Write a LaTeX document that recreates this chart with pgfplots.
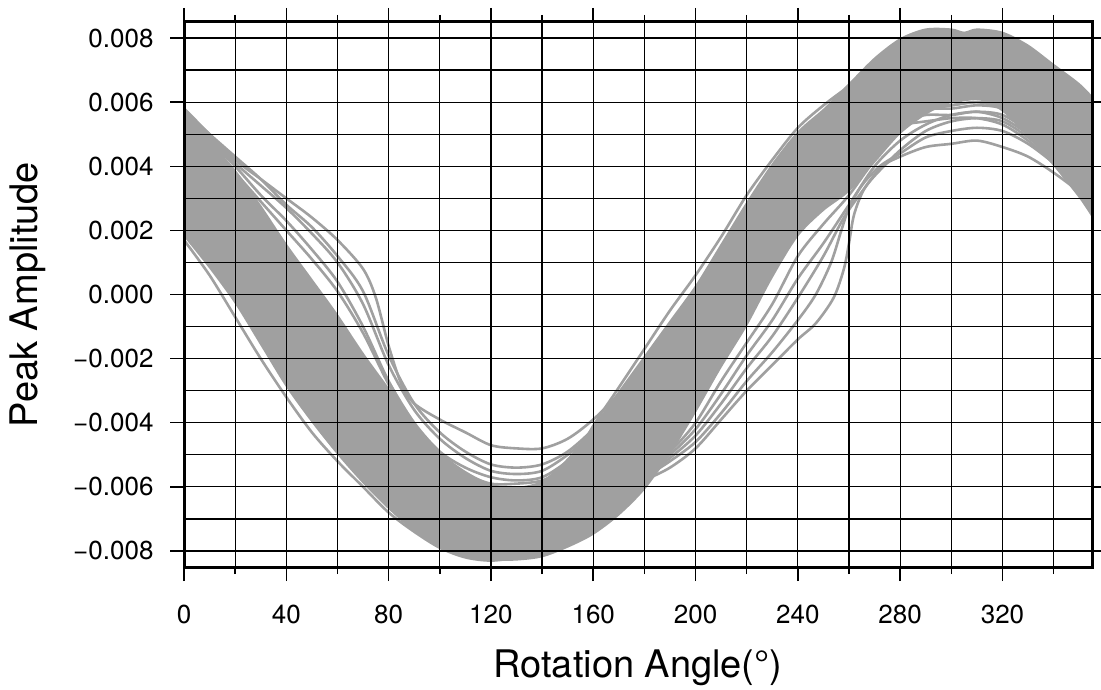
\documentclass[border=0pt]{standalone}
\usepackage{pgfplots}
\pgfplotsset{compat=1.18}
\usepgfplotslibrary{fillbetween}
\usepackage{fontspec}
\setmainfont{TeX Gyre Heros}
\definecolor{trace}{RGB}{160,160,160}
\pgfplotsset{tr/.style={color=trace, solid, no markers, line width=2.6pt, smooth}}

% upper and lower edge of the dense bundle of traces
\pgfplotstableread{
x y
0 0.0056
10 0.0048
20 0.0039
30 0.0028
40 0.0016
50 0.0005
60 -0.0006
70 -0.0018
80 -0.0029
90 -0.0040
100 -0.0049
110 -0.0055
120 -0.0059
130 -0.0060
140 -0.0058
150 -0.0051
160 -0.0041
170 -0.0030
180 -0.0019
190 -0.0008
200 0.0003
210 0.0016
220 0.0029
230 0.0041
240 0.0051
250 0.0058
260 0.0066
270 0.0074
280 0.0080
290 0.0083
300 0.0083
305 0.0082
310 0.0083
320 0.0082
330 0.0078
340 0.0072
350 0.0066
355 0.0062
}\bandupper
\pgfplotstableread{
x y
0 0.0018
10 0.0008
20 -0.0003
30 -0.0016
40 -0.0029
50 -0.0040
60 -0.0050
70 -0.0059
80 -0.0067
90 -0.0074
100 -0.0079
110 -0.0082
120 -0.0083
130 -0.0083
140 -0.0082
150 -0.0079
160 -0.0075
170 -0.0069
180 -0.0061
190 -0.0050
200 -0.0037
210 -0.0023
220 -0.0010
230 0.0005
240 0.0018
250 0.0026
260 0.0032
270 0.0041
280 0.0050
290 0.0056
300 0.0060
310 0.0061
320 0.0057
330 0.0049
340 0.0040
350 0.0030
355 0.0024
}\bandlower

\begin{document}
\begin{tikzpicture}
\begin{axis}[
  at={(184pt,122pt)}, anchor=south west,
  scale only axis, width=908pt, height=545pt,
  xmin=0, xmax=355, ymin=-0.0085, ymax=0.0085,
  axis on top,
  axis line style={line width=3pt},
  tick align=outside,
  xtick={0,40,80,120,160,200,240,280,320},
  minor xtick={20,60,100,140,180,220,260,300,340},
  ytick={-0.008,-0.006,-0.004,-0.002,0,0.002,0.004,0.006,0.008},
  yticklabels={−0.008,−0.006,−0.004,−0.002,0.000,0.002,0.004,0.006,0.008},
  scaled y ticks=false,
  extra y ticks={-0.007,-0.005,-0.003,-0.001,0.001,0.003,0.005,0.007},
  extra y tick labels={},
  extra y tick style={major tick length=0pt, grid=major},
  grid=both,
  major grid style={black, line width=1.2pt},
  minor grid style={black, line width=1.2pt},
  major tick length=14pt, minor tick length=7pt,
  every tick/.style={black, line width=1.5pt},
  ticklabel style={font=\fontsize{26}{30}\selectfont},
  xticklabel style={yshift=-21pt},
  yticklabel style={xshift=-13pt},
  /pgf/number format/assume math mode=true,
  xlabel={Rotation Angle(\textdegree)},
  ylabel={Peak Amplitude},
  label style={font=\fontsize{38}{44}\selectfont},
  xlabel style={at={(axis description cs:0.5,-0.1853)}, anchor=center},
  ylabel style={at={(axis description cs:-0.1718,0.5)}, anchor=center},
]
\addplot[name path=upper, draw=none, smooth] table {\bandupper};
\addplot[name path=lower, draw=none, smooth] table {\bandlower};
\addplot[trace] fill between[of=upper and lower];

% traces that lag on the falling flank and have a shallow minimum
\addplot[tr] coordinates {(0,0.0058)(10,0.0050)(20,0.0042)(30,0.0036)(40,0.0030)(50,0.0024)(60,0.0017)(70,0.0008)(75,-0.0001)(80,-0.0016)(85,-0.0028)(90,-0.0034)(100,-0.0039)(110,-0.0043)(120,-0.0047)(130,-0.0048)(140,-0.0048)(150,-0.0045)(160,-0.0039)(170,-0.0031)(180,-0.0022)(190,-0.0013)(200,-0.0003)(210,0.0008)(220,0.0019)(230,0.0029)(240,0.0037)(250,0.0044)(260,0.0049)(270,0.0052)(280,0.0053)(290,0.0054)(300,0.0055)(310,0.0055)(320,0.0053)(330,0.0048)(340,0.0041)(350,0.0034)(355,0.0030)};
\addplot[tr] coordinates {(0,0.0057)(10,0.0049)(20,0.0041)(30,0.0034)(40,0.0027)(50,0.0019)(60,0.0010)(70,-0.0003)(80,-0.0022)(90,-0.0036)(100,-0.0045)(110,-0.0051)(120,-0.0055)(130,-0.0056)(140,-0.0055)(150,-0.0050)(160,-0.0043)(170,-0.0034)(180,-0.0025)(190,-0.0016)(200,-0.0006)(210,0.0005)(220,0.0016)(230,0.0027)(240,0.0036)(250,0.0044)(260,0.0050)(270,0.0055)(280,0.0057)(290,0.0058)(300,0.0058)(310,0.0059)(320,0.0058)(330,0.0053)(340,0.0046)(350,0.0038)(355,0.0034)};
\addplot[tr] coordinates {(0,0.0056)(10,0.0048)(20,0.0040)(30,0.0031)(40,0.0023)(50,0.0014)(60,0.0004)(70,-0.0010)(80,-0.0027)(90,-0.0040)(100,-0.0049)(110,-0.0054)(120,-0.0057)(130,-0.0058)(140,-0.0057)(150,-0.0052)(160,-0.0045)(170,-0.0036)(180,-0.0027)(190,-0.0018)(200,-0.0008)(210,0.0003)(220,0.0014)(230,0.0025)(240,0.0034)(250,0.0042)(260,0.0048)(270,0.0052)(280,0.0054)(290,0.0056)(300,0.0056)(310,0.0057)(320,0.0055)(330,0.0050)(340,0.0043)(350,0.0036)(355,0.0032)};
\addplot[tr] coordinates {(0,0.0055)(10,0.0047)(20,0.0038)(30,0.0029)(40,0.0020)(50,0.0011)(60,0.0001)(70,-0.0012)(80,-0.0028)(90,-0.0041)(100,-0.0051)(110,-0.0056)(120,-0.0059)(130,-0.0059)(140,-0.0058)(150,-0.0054)(160,-0.0047)(170,-0.0038)(180,-0.0029)(190,-0.0020)(200,-0.0010)(210,0.0001)(220,0.0012)(230,0.0023)(240,0.0033)(250,0.0042)(260,0.0049)(270,0.0054)(280,0.0057)(290,0.0059)(300,0.0060)(310,0.0061)(320,0.0059)(330,0.0054)(340,0.0047)(350,0.0039)(355,0.0035)};
\addplot[tr] coordinates {(0,0.0057)(10,0.0050)(20,0.0043)(30,0.0036)(40,0.0028)(50,0.0021)(60,0.0012)(70,0.0001)(80,-0.0019)(90,-0.0034)(100,-0.0043)(110,-0.0049)(120,-0.0053)(130,-0.0054)(140,-0.0053)(150,-0.0049)(160,-0.0042)(170,-0.0033)(180,-0.0024)(190,-0.0015)(200,-0.0005)(210,0.0006)(220,0.0017)(230,0.0028)(240,0.0037)(250,0.0045)(260,0.0051)(270,0.0056)(280,0.0058)(290,0.0059)(300,0.0059)(310,0.0060)(320,0.0058)(330,0.0053)(340,0.0046)(350,0.0038)(355,0.0034)};
% traces that lag on the rising flank
\addplot[tr] coordinates {(0,0.0037)(10,0.0028)(20,0.0018)(30,0.0006)(40,-0.0006)(50,-0.0018)(60,-0.0028)(70,-0.0038)(80,-0.0048)(90,-0.0056)(100,-0.0063)(110,-0.0068)(120,-0.0071)(130,-0.0072)(140,-0.0071)(150,-0.0069)(160,-0.0066)(170,-0.0062)(180,-0.0058)(190,-0.0054)(200,-0.0048)(210,-0.0039)(220,-0.0030)(230,-0.0022)(240,-0.0014)(247,-0.0009)(254,-0.0001)(258,0.0008)(260,0.0016)(262,0.0025)(266,0.0033)(273,0.0040)(280,0.0043)(290,0.0046)(300,0.0047)(310,0.0048)(320,0.0046)(330,0.0043)(340,0.0038)(350,0.0032)(355,0.0028)};
\addplot[tr] coordinates {(0,0.0038)(10,0.0029)(20,0.0019)(30,0.0007)(40,-0.0005)(50,-0.0017)(60,-0.0027)(70,-0.0037)(80,-0.0047)(90,-0.0055)(100,-0.0062)(110,-0.0067)(120,-0.0070)(130,-0.0071)(140,-0.0070)(150,-0.0068)(160,-0.0065)(170,-0.0061)(180,-0.0057)(190,-0.0052)(200,-0.0046)(210,-0.0037)(220,-0.0027)(230,-0.0018)(240,-0.0008)(247,0.0000)(253,0.0010)(257,0.0020)(260,0.0027)(265,0.0034)(272,0.0040)(280,0.0044)(290,0.0049)(300,0.0051)(310,0.0052)(320,0.0051)(330,0.0047)(340,0.0041)(350,0.0034)(355,0.0030)};
\addplot[tr] coordinates {(0,0.0039)(10,0.0030)(20,0.0020)(30,0.0008)(40,-0.0004)(50,-0.0016)(60,-0.0026)(70,-0.0036)(80,-0.0046)(90,-0.0054)(100,-0.0061)(110,-0.0066)(120,-0.0069)(130,-0.0070)(140,-0.0069)(150,-0.0067)(160,-0.0064)(170,-0.0060)(180,-0.0056)(190,-0.0050)(200,-0.0042)(210,-0.0031)(220,-0.0019)(230,-0.0008)(240,0.0005)(250,0.0016)(260,0.0028)(270,0.0040)(280,0.0048)(290,0.0053)(300,0.0056)(310,0.0057)(320,0.0056)(330,0.0051)(340,0.0044)(350,0.0037)(355,0.0033)};
\addplot[tr] coordinates {(0,0.0038)(10,0.0029)(20,0.0019)(30,0.0007)(40,-0.0005)(50,-0.0017)(60,-0.0027)(70,-0.0037)(80,-0.0047)(90,-0.0055)(100,-0.0062)(110,-0.0067)(120,-0.0070)(130,-0.0071)(140,-0.0070)(150,-0.0068)(160,-0.0065)(170,-0.0061)(180,-0.0057)(190,-0.0051)(200,-0.0044)(210,-0.0034)(220,-0.0023)(230,-0.0013)(240,-0.0001)(250,0.0012)(258,0.0024)(265,0.0032)(270,0.0037)(280,0.0045)(290,0.0051)(300,0.0054)(310,0.0055)(320,0.0054)(330,0.0049)(340,0.0042)(350,0.0035)(355,0.0031)};
\addplot[tr] coordinates {(0,0.0040)(10,0.0031)(20,0.0021)(30,0.0009)(40,-0.0003)(50,-0.0015)(60,-0.0025)(70,-0.0035)(80,-0.0045)(90,-0.0053)(100,-0.0060)(110,-0.0065)(120,-0.0068)(130,-0.0069)(140,-0.0068)(150,-0.0066)(160,-0.0063)(170,-0.0059)(180,-0.0055)(190,-0.0049)(200,-0.0040)(210,-0.0027)(220,-0.0015)(230,-0.0003)(240,0.0012)(250,0.0022)(260,0.0031)(270,0.0042)(280,0.0051)(290,0.0057)(300,0.0059)(310,0.0060)(320,0.0059)(330,0.0054)(340,0.0047)(350,0.0039)(355,0.0035)};
% early traces along the edges of the bundle
\addplot[tr] coordinates {(0,0.0017)(10,0.0006)(20,-0.0007)(30,-0.0020)(40,-0.0032)(50,-0.0043)(60,-0.0052)(70,-0.0060)(80,-0.0068)(90,-0.0074)(100,-0.0079)(110,-0.0082)(120,-0.0083)(130,-0.0082)(140,-0.0080)(150,-0.0076)(160,-0.0070)(170,-0.0063)(180,-0.0054)(190,-0.0043)(200,-0.0030)(210,-0.0017)(220,-0.0004)(230,0.0009)(240,0.0022)(250,0.0034)(260,0.0045)(270,0.0055)(280,0.0064)(290,0.0072)(300,0.0077)(310,0.0079)(320,0.0078)(330,0.0073)(340,0.0066)(350,0.0057)(355,0.0052)};
\addplot[tr] coordinates {(0,0.0045)(10,0.0035)(20,0.0024)(30,0.0012)(40,0.0000)(50,-0.0012)(60,-0.0024)(70,-0.0036)(80,-0.0046)(90,-0.0056)(100,-0.0063)(110,-0.0068)(120,-0.0070)(130,-0.0069)(140,-0.0065)(150,-0.0055)(160,-0.0041)(170,-0.0029)(180,-0.0017)(190,-0.0005)(200,0.0006)(210,0.0018)(220,0.0031)(230,0.0042)(240,0.0052)(250,0.0059)(260,0.0065)(270,0.0071)(280,0.0076)(290,0.0079)(300,0.0080)(310,0.0079)(320,0.0077)(330,0.0073)(340,0.0067)(350,0.0060)(355,0.0056)};
\end{axis}
\pgfresetboundingbox
\useasboundingbox (0,0) rectangle (1101pt,689pt);
\end{tikzpicture}
\end{document}
